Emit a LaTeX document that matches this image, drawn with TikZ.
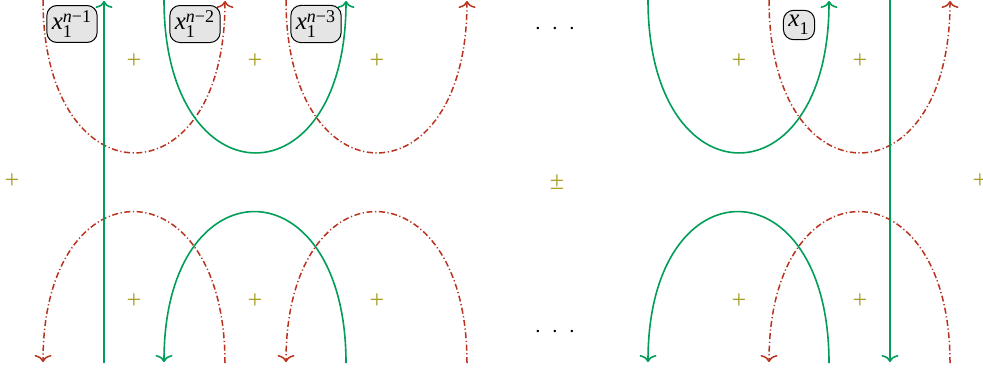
\documentclass[tikz,border=0pt]{standalone}
\usepackage{fontspec}
\setmainfont{Liberation Serif}
\usetikzlibrary{arrows.meta}
\definecolor{cred}{RGB}{185,50,30}
\definecolor{cgreen}{RGB}{0,158,88}
\definecolor{colive}{RGB}{170,160,40}
\newcommand{\xlab}[1]{$\mbox{\fontsize{12.5}{14}\selectfont\itshape x}_{\mbox{\fontsize{9}{10}\selectfont 1}}^{\mbox{\fontsize{9}{10}\selectfont #1}}$}
\begin{document}
\begin{tikzpicture}[x=0.5pt,y=-0.5pt,
  tipa/.tip={To[length=3.5pt,width=8.5pt]},
  redline/.style={draw=cred,line width=0.75pt,dash pattern=on 3pt off 1.3pt on 0.6pt off 1.3pt},
  greenline/.style={draw=cgreen,line width=0.8pt},
  lab/.style={draw=black,line width=0.5pt,fill=black!10,rounded corners=5pt,inner sep=2.5pt},
  pl/.style={text=colive,inner sep=0pt,font=\fontsize{13}{15}\selectfont},
  dotsn/.style={inner sep=0pt,font=\fontsize{12}{14}\selectfont}]
\useasboundingbox (0,0) rectangle (983,370);
% top coordinates
\coordinate (ta1) at (43,0);   \coordinate (ta2) at (225,1);
\coordinate (tg1) at (164,0);  \coordinate (tg2) at (346,1);
\coordinate (tb1) at (286,0);  \coordinate (tb2) at (467,1);
\coordinate (tc1) at (648,0);  \coordinate (tc2) at (829,1);
\coordinate (td1) at (769,0);  \coordinate (td2) at (950,1);
\coordinate (va1) at (104,363); \coordinate (va2) at (104,1);
\coordinate (vb1) at (890,0);   \coordinate (vb2) at (890,362);
% bottom coordinates
\coordinate (ba1) at (225,363); \coordinate (ba2) at (43,362);
\coordinate (bg1) at (346,363); \coordinate (bg2) at (164,362);
\coordinate (bb1) at (467,363); \coordinate (bb2) at (286,362);
\coordinate (bc1) at (829,363); \coordinate (bc2) at (648,362);
\coordinate (bd1) at (950,363); \coordinate (bd2) at (769,362);
% top arcs
\draw[redline,-tipa] (ta1) .. controls +(0,203) and +(0,203) .. (ta2);
\draw[greenline,-tipa] (tg1) .. controls +(0,203) and +(0,203) .. (tg2);
\draw[redline,-tipa] (tb1) .. controls +(0,203) and +(0,203) .. (tb2);
\draw[greenline,-tipa] (tc1) .. controls +(0,203) and +(0,203) .. (tc2);
\draw[redline,-tipa] (td1) .. controls +(0,203) and +(0,203) .. (td2);
% bottom arcs
\draw[redline,-tipa] (ba1) .. controls +(0,-201) and +(0,-201) .. (ba2);
\draw[greenline,-tipa] (bg1) .. controls +(0,-201) and +(0,-201) .. (bg2);
\draw[redline,-tipa] (bb1) .. controls +(0,-201) and +(0,-201) .. (bb2);
\draw[greenline,-tipa] (bc1) .. controls +(0,-201) and +(0,-201) .. (bc2);
\draw[redline,-tipa] (bd1) .. controls +(0,-201) and +(0,-201) .. (bd2);
% vertical lines
\draw[greenline,-tipa] (va1) -- (va2);
\draw[greenline,-tipa] (vb1) -- (vb2);
% plus signs
\node[pl] (p1) at (134,61) {+};
\node[pl] (p2) at (255,61) {+};
\node[pl] (p3) at (377,61) {+};
\node[pl] (p4) at (739,61) {+};
\node[pl] (p5) at (860,61) {+};
\node[pl] (q1) at (134,301) {+};
\node[pl] (q2) at (255,301) {+};
\node[pl] (q3) at (377,301) {+};
\node[pl] (q4) at (739,301) {+};
\node[pl] (q5) at (860,301) {+};
\node[pl] (m1) at (12,181) {+};
\node[pl] (m2) at (557,182) {±};
\node[pl] (m3) at (980,181) {+};
% dots
\node[dotsn] (d1) at (555,29) {$\cdotp\hspace{3.2pt}\cdotp\hspace{3.2pt}\cdotp$};
\node[dotsn] (d2) at (555,332) {$\cdotp\hspace{3.2pt}\cdotp\hspace{3.2pt}\cdotp$};
% labels
\node[lab] (l1) at (72,24) {\xlab{\itshape n\upshape −1}};
\node[lab] (l2) at (195,24) {\xlab{\itshape n\upshape −2}};
\node[lab] (l3) at (316,24) {\xlab{\itshape n\upshape −3}};
\node[lab] (l4) at (799,25) {\xlab{}};
\end{tikzpicture}
\end{document}
